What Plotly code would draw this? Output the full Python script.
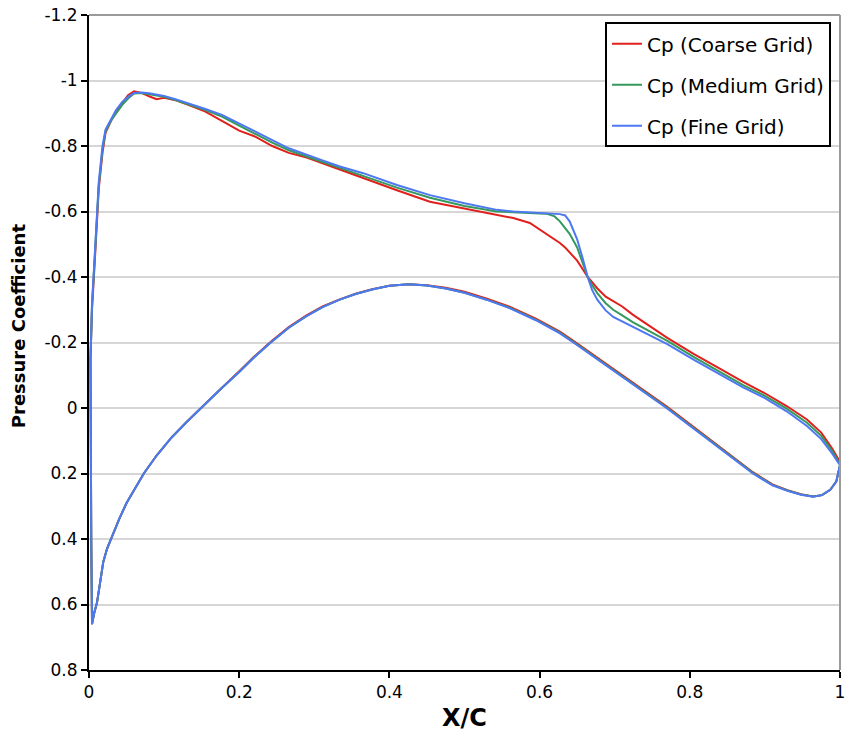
import plotly.graph_objects as go

# ---------------- data ----------------
series_names = ["Cp (Coarse Grid)", "Cp (Medium Grid)", "Cp (Fine Grid)"]
series_colors = ["#e0201c", "#35995c", "#4d78f2"]

# upper (suction) surface, leading edge -> trailing edge
x_upper = [0.004, 0.003, 0.002, 0.002, 0.004, 0.008, 0.013, 0.018, 0.022, 0.03,
           0.036, 0.044, 0.052, 0.06, 0.07, 0.08, 0.09, 0.1, 0.115, 0.133,
           0.155, 0.177, 0.2, 0.222, 0.244, 0.266, 0.29, 0.31, 0.333, 0.365,
           0.41, 0.454, 0.5, 0.543, 0.565, 0.587, 0.6, 0.61, 0.62, 0.627,
           0.634, 0.64, 0.65, 0.657, 0.664, 0.67, 0.677, 0.688, 0.698, 0.71,
           0.724, 0.74, 0.77, 0.805, 0.84, 0.871, 0.9, 0.929, 0.956, 0.975,
           0.99, 1.0]

cp_upper_coarse = [0.655, 0.40, 0.10, -0.15, -0.30, -0.46, -0.67, -0.78, -0.84, -0.88,
                   -0.905, -0.93, -0.955, -0.967, -0.962, -0.952, -0.943, -0.947, -0.94, -0.925,
                   -0.905, -0.877, -0.847, -0.828, -0.80, -0.779, -0.765, -0.748, -0.73, -0.702,
                   -0.665, -0.63, -0.608, -0.59, -0.58, -0.565, -0.547, -0.53, -0.515, -0.504,
                   -0.49, -0.475, -0.45, -0.425, -0.40, -0.385, -0.365, -0.34, -0.325, -0.31,
                   -0.285, -0.26, -0.214, -0.165, -0.12, -0.08, -0.045, -0.006, 0.035, 0.075,
                   0.125, 0.165]

cp_upper_medium = [0.655, 0.40, 0.10, -0.15, -0.31, -0.47, -0.68, -0.79, -0.845, -0.88,
                   -0.90, -0.925, -0.945, -0.96, -0.962, -0.958, -0.954, -0.95, -0.94, -0.927,
                   -0.91, -0.89, -0.862, -0.836, -0.81, -0.787, -0.768, -0.752, -0.734, -0.71,
                   -0.673, -0.642, -0.617, -0.60, -0.597, -0.595, -0.594, -0.593, -0.585, -0.57,
                   -0.55, -0.532, -0.49, -0.445, -0.40, -0.375, -0.35, -0.32, -0.30, -0.283,
                   -0.262, -0.243, -0.205, -0.156, -0.11, -0.07, -0.037, 0.002, 0.045, 0.085,
                   0.132, 0.172]

cp_upper_fine = [0.655, 0.40, 0.10, -0.15, -0.32, -0.48, -0.69, -0.80, -0.85, -0.885,
                 -0.91, -0.934, -0.95, -0.962, -0.963, -0.961, -0.958, -0.953, -0.943, -0.93,
                 -0.913, -0.895, -0.87, -0.843, -0.818, -0.793, -0.773, -0.757, -0.738, -0.717,
                 -0.681, -0.65, -0.625, -0.605, -0.600, -0.596, -0.595, -0.594, -0.593, -0.592,
                 -0.588, -0.57, -0.515, -0.46, -0.40, -0.36, -0.33, -0.298, -0.278, -0.263,
                 -0.246, -0.229, -0.195, -0.148, -0.102, -0.063, -0.03, 0.01, 0.055, 0.095,
                 0.14, 0.175]

# small red spike at the trailing edge of the coarse grid
x_te_spike = [1.0]
cp_te_spike_coarse = [0.10]

# lower (pressure) surface, leading edge -> trailing edge
x_lower = [0.004, 0.007, 0.0106, 0.015, 0.019, 0.024, 0.029, 0.04, 0.05, 0.06,
           0.073, 0.09, 0.11, 0.13, 0.149, 0.175, 0.2, 0.22, 0.242, 0.266,
           0.289, 0.311, 0.333, 0.355, 0.377, 0.4, 0.426, 0.45, 0.475, 0.5,
           0.53, 0.56, 0.595, 0.627, 0.645, 0.66, 0.694, 0.727, 0.769, 0.8,
           0.827, 0.86, 0.884, 0.91, 0.93, 0.948, 0.964, 0.976, 0.987, 0.995,
           1.0]

cp_lower_coarse = [0.66, 0.625, 0.595, 0.53, 0.47, 0.43, 0.40, 0.34, 0.29, 0.25,
                   0.20, 0.145, 0.09, 0.043, 0.0, -0.057, -0.112, -0.157, -0.202, -0.247,
                   -0.282, -0.31, -0.331, -0.349, -0.363, -0.373, -0.378, -0.375, -0.367, -0.355,
                   -0.334, -0.309, -0.273, -0.233, -0.205, -0.181, -0.126, -0.073, -0.005, 0.049,
                   0.096, 0.153, 0.196, 0.233, 0.251, 0.263, 0.27, 0.266, 0.25, 0.225,
                   0.175]

cp_lower_medium = [0.66, 0.625, 0.595, 0.53, 0.47, 0.43, 0.40, 0.34, 0.29, 0.25,
                   0.20, 0.145, 0.09, 0.043, 0.0, -0.057, -0.11, -0.155, -0.20, -0.245,
                   -0.28, -0.308, -0.33, -0.348, -0.362, -0.373, -0.378, -0.374, -0.365, -0.352,
                   -0.331, -0.306, -0.27, -0.23, -0.202, -0.178, -0.123, -0.07, -0.002, 0.052,
                   0.099, 0.156, 0.198, 0.235, 0.252, 0.264, 0.27, 0.266, 0.25, 0.225,
                   0.175]

cp_lower_fine = [0.66, 0.625, 0.595, 0.53, 0.47, 0.43, 0.40, 0.34, 0.29, 0.25,
                 0.20, 0.145, 0.09, 0.043, 0.0, -0.057, -0.11, -0.155, -0.20, -0.245,
                 -0.28, -0.308, -0.33, -0.348, -0.362, -0.373, -0.378, -0.374, -0.365, -0.352,
                 -0.33, -0.305, -0.268, -0.228, -0.20, -0.176, -0.121, -0.068, 0.0, 0.054,
                 0.101, 0.158, 0.20, 0.236, 0.253, 0.265, 0.271, 0.266, 0.25, 0.225,
                 0.175]

x_tick_vals = [0, 0.2, 0.4, 0.6, 0.8, 1.0]
x_tick_text = ["0", "0.2", "0.4", "0.6", "0.8", "1"]
y_tick_vals = [-1.2, -1.0, -0.8, -0.6, -0.4, -0.2, 0.0, 0.2, 0.4, 0.6, 0.8]
y_tick_text = ["-1.2", "-1", "-0.8", "-0.6", "-0.4", "-0.2", "0", "0.2", "0.4", "0.6", "0.8"]

# ---------------- figure ----------------
uppers = [cp_upper_coarse, cp_upper_medium, cp_upper_fine]
lowers = [cp_lower_coarse, cp_lower_medium, cp_lower_fine]

fig = go.Figure()
for i, name in enumerate(series_names):
    xs = list(reversed(x_upper)) + x_lower
    ys = list(reversed(uppers[i])) + lowers[i]
    if i == 0:
        xs = x_te_spike + xs
        ys = cp_te_spike_coarse + ys
    fig.add_trace(go.Scatter(
        x=xs, y=ys, mode="lines", name=name,
        line=dict(color=series_colors[i], width=2),
        legendgroup=name,
    ))

FONT = "DejaVu Sans, Verdana, sans-serif"

fig.update_layout(
    width=845, height=739,
    margin=dict(l=89, r=5, t=15, b=69, autoexpand=False),
    paper_bgcolor="white", plot_bgcolor="white",
    font=dict(family=FONT, size=16, color="black"),
    showlegend=True,
    legend=dict(
        x=0.988, y=0.989, xanchor="right", yanchor="top",
        bgcolor="white", bordercolor="black", borderwidth=2,
        font=dict(family=FONT, size=20, color="black"),
        traceorder="grouped", tracegroupgap=12, itemwidth=30,
    ),
    xaxis=dict(
        range=[0, 1], tickvals=x_tick_vals, ticktext=x_tick_text,
        showgrid=False, zeroline=False, automargin=False,
        showline=True, linecolor="black", linewidth=2,
        ticks="outside", ticklen=6, tickwidth=2, tickcolor="black",
        tickfont=dict(size=17), ticklabeloverflow="allow",
    ),
    yaxis=dict(
        range=[0.8, -1.2], tickvals=y_tick_vals, ticktext=y_tick_text,
        showgrid=True, gridcolor="#d6d6d6", gridwidth=2, zeroline=False,
        automargin=False,
        showline=True, linecolor="black", linewidth=2,
        ticks="outside", ticklen=6, tickwidth=2, tickcolor="black",
        tickfont=dict(size=17), ticklabeloverflow="allow",
    ),
    shapes=[
        dict(type="line", xref="paper", yref="paper", x0=0, x1=1, y0=1, y1=1,
             line=dict(color="#9a9a9a", width=2), layer="above"),
        dict(type="line", xref="paper", yref="paper", x0=1, x1=1, y0=0, y1=1,
             line=dict(color="#9a9a9a", width=2), layer="above"),
    ],
    annotations=[
        dict(text="<b>X/C</b>", xref="paper", yref="paper", x=0.5, y=-0.073,
             xanchor="center", yanchor="middle", showarrow=False,
             font=dict(family=FONT, size=24, color="black")),
        dict(text="<b>Pressure Coefficient</b>", xref="paper", yref="paper",
             x=-0.0945, y=0.525, xanchor="center", yanchor="middle",
             textangle=-90, showarrow=False,
             font=dict(family=FONT, size=18, color="black")),
    ],
)

fig.write_html("out.html")
